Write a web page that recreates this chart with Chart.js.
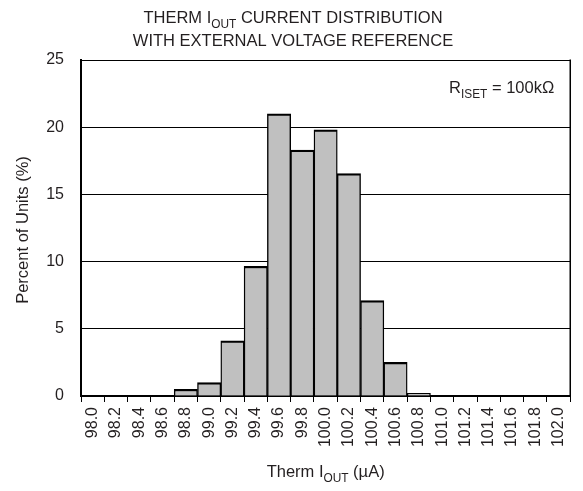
<!DOCTYPE html>
<html>
<head>
<meta charset="utf-8">
<script src="https://cdn.jsdelivr.net/npm/chart.js@4/dist/chart.umd.min.js"></script>
<style>
  html, body { margin: 0; padding: 0; background: #fff; }
  #wrap { width: 583px; height: 491px; position: relative; }
</style>
</head>
<body>
<div id="wrap"><canvas id="c" width="583" height="491"></canvas></div>
<script>
// ---- data ----
const categories = ['98.0','98.2','98.4','98.6','98.8','99.0','99.2','99.4','99.6','99.8',
                    '100.0','100.2','100.4','100.6','100.8','101.0','101.2','101.4','101.6','101.8','102.0'];
const percentOfUnits = [0, 0, 0, 0, 0.5, 1.0, 4.1, 9.65, 21.0, 18.3,
                        19.8, 16.55, 7.1, 2.5, 0.2, 0, 0, 0, 0, 0, 0];
const yTickValues = [0, 5, 10, 15, 20, 25];
const titleLines = [
  [{t: 'THERM I'}, {t: 'OUT', sub: true}, {t: ' CURRENT DISTRIBUTION'}],
  [{t: 'WITH EXTERNAL VOLTAGE REFERENCE'}]
];
const xTitle = [{t: 'Therm I'}, {t: 'OUT', sub: true}, {t: ' (\u00B5A)'}];
const yTitle = 'Percent of Units (%)';
const annotation = [{t: 'R'}, {t: 'ISET', sub: true}, {t: ' = 100k\u03A9'}];

const FONT = '"Liberation Sans", Arial, Helvetica, sans-serif';
const TEXT = '#231f20';

function richWidth(ctx, parts, size) {
  let w = 0;
  for (const p of parts) {
    ctx.font = (p.sub ? size * 0.72 : size) + 'px ' + FONT;
    w += ctx.measureText(p.t).width;
  }
  return w;
}
function drawRich(ctx, parts, x, y, size, align) {
  const w = richWidth(ctx, parts, size);
  let cx = align === 'center' ? x - w / 2 : (align === 'right' ? x - w : x);
  ctx.textBaseline = 'alphabetic';
  ctx.textAlign = 'left';
  ctx.fillStyle = TEXT;
  for (const p of parts) {
    ctx.font = (p.sub ? size * 0.72 : size) + 'px ' + FONT;
    ctx.fillText(p.t, cx, p.sub ? y + size * 0.28 : y);
    cx += ctx.measureText(p.t).width;
  }
}

const decor = {
  id: 'decor',
  afterDraw(chart) {
    const ctx = chart.ctx;
    const a = chart.chartArea;
    ctx.save();
    ctx.strokeStyle = '#000';
    ctx.lineWidth = 1.5;
    ctx.beginPath();
    ctx.moveTo(a.right, a.top - 0.5);
    ctx.lineTo(a.right, a.bottom);
    ctx.stroke();
    drawRich(ctx, titleLines[0], 293, 23, 16.5, 'center');
    drawRich(ctx, titleLines[1], 293, 46, 16.5, 'center');
    drawRich(ctx, xTitle, (a.left + a.right) / 2, 477, 16.5, 'center');
    drawRich(ctx, annotation, a.right - 16, 93, 16.5, 'right');
    ctx.translate(23, (a.top + a.bottom) / 2 + 2);
    ctx.rotate(-Math.PI / 2);
    ctx.font = '16.5px ' + FONT;
    ctx.fillStyle = TEXT;
    ctx.textAlign = 'center';
    ctx.textBaseline = 'middle';
    ctx.fillText(yTitle, 0, 0);
    ctx.restore();
  }
};

new Chart(document.getElementById('c'), {
  type: 'bar',
  data: {
    labels: categories,
    datasets: [{
      data: percentOfUnits,
      backgroundColor: '#c0c0c0',
      borderColor: '#000',
      borderWidth: {top: 2.2, left: 1.4, right: 1.4, bottom: 0},
      borderSkipped: false,
      barPercentage: 1.0,
      categoryPercentage: 1.0
    }]
  },
  options: {
    responsive: false,
    animation: false,
    devicePixelRatio: 1,
    layout: { padding: { left: 0, right: 8, top: 60, bottom: 0 } },
    plugins: { legend: { display: false }, tooltip: { enabled: false }, title: { display: false } },
    scales: {
      x: {
        offset: true,
        grid: { offset: true, drawOnChartArea: false, drawTicks: true, tickLength: 6, color: '#000', lineWidth: 1 },
        border: { display: true, color: '#000', width: 2 },
        ticks: {
          autoSkip: false, maxRotation: 90, minRotation: 90, padding: 5,
          color: TEXT, font: { family: FONT, size: 16 }
        },
        afterFit(s) { s.height = 95; }
      },
      y: {
        min: 0, max: 25,
        afterBuildTicks(s) { s.ticks = yTickValues.map(v => ({ value: v })); },
        grid: { drawTicks: false, color: '#000', lineWidth: 1 },
        border: { display: true, color: '#000', width: 2 },
        ticks: { padding: 17, color: TEXT, font: { family: FONT, size: 16 } },
        afterFit(s) { s.width = 81; }
      }
    }
  },
  plugins: [decor]
});
</script>
</body>
</html>
